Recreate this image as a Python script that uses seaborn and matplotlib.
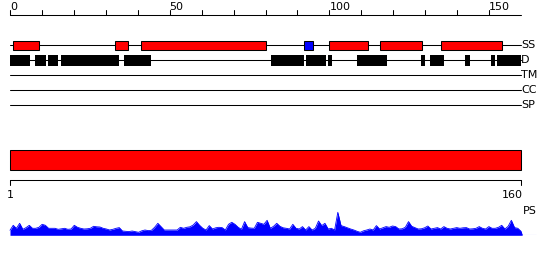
import numpy as np
import pandas as pd
import matplotlib
matplotlib.use("Agg")
import matplotlib.pyplot as plt
import seaborn as sns

sns.set_style("white")
plt.rcParams['font.family'] = ['DejaVu Sans']
plt.rcParams['text.color'] = 'black'

# ---------------- data ----------------
seq_len = 160
track_labels = ["SS", "D", "TM", "CC", "SP"]
top_major_ticks = [0, 50, 100, 150]
top_minor_ticks = [10, 20, 30, 40, 60, 70, 80, 90, 110, 120, 130, 140]

helix_start = [1, 33, 41, 100, 116, 135]
helix_end = [9, 37, 80, 112, 129, 154]
strand_start = [92]
strand_end = [95]

disorder_start = [0, 7.8, 11.9, 16, 35.7, 81.7, 92.7, 99.6, 108.6, 128.7, 131.5, 142.5, 150.6, 152.5]
disorder_end = [6.2, 11.2, 15, 34.1, 44.1, 92, 98.9, 100.7, 117.9, 129.8, 135.9, 143.9, 151.9, 160]

domain_start = [1]
domain_end = [160]
bottom_tick_labels = ["1", "160"]

ps_values = [
    5, 10, 7, 12, 6, 7.7, 10, 7, 7, 8,
    11, 10, 7, 7, 7, 6, 6.5, 7, 6, 6.3,
    10, 8, 7, 6.3, 6.5, 7, 9, 8.5, 8.3, 7,
    6.3, 5.3, 6, 7, 7.7, 4.3, 4, 3.7, 4.3, 3.7,
    3, 4.5, 5.3, 4.7, 5, 8, 12, 8.7, 5.3, 5.3,
    5.3, 5.3, 5.3, 8, 7, 8, 8.5, 10.3, 13.7, 10,
    7, 5.3, 9.7, 6.3, 7.5, 8, 7.7, 5.3, 11, 13,
    11, 8, 6, 13.7, 7.7, 7.2, 7, 13, 12, 11,
    15, 7, 9, 12, 9, 7.5, 7, 6.3, 11, 7,
    6.3, 8.7, 5.3, 8.7, 5.3, 7, 14.3, 9.7, 12, 6.3,
    7, 5.3, 23, 9.7, 8.7, 7.5, 6.3, 5.3, 4, 3,
    4.5, 5.3, 6.3, 5.3, 9.7, 6.3, 7.5, 8.7, 8, 9.3,
    8.7, 6.3, 6.5, 8, 13.7, 9, 7.7, 6.3, 6.5, 7.5,
    9.3, 6.3, 7, 7.7, 6.3, 8.7, 7, 6.3, 7, 7.7,
    7, 7.5, 7.7, 6.3, 6.5, 7, 8.7, 7, 6.3, 8.7,
    7, 7, 8, 10, 6.3, 9, 15, 7.7, 7, 4,
]
residues = list(range(1, seq_len + 1))

# ---------------- figure ----------------
W, H = 550, 260
fig = plt.figure(figsize=(W / 100, H / 100), dpi=100)

LINE = 0.75
FS = 8

# top panel axes: residue 0 at px 10, residue 160 at px 521
s_top = 511 / 160
ax = fig.add_axes([0, 0, 1, 1])
ax.set_xlim(-10 / s_top, (W - 10) / s_top)
ax.set_ylim(H, 0)
ax.axis("off")

# ruler
ax.plot([0, seq_len], [14.7, 14.7], color="black", lw=LINE)
for t in top_major_ticks + top_minor_ticks:
    ax.plot([t, t], [14.7, 10.0], color="black", lw=LINE)
for t in top_major_ticks:
    ax.text(t, 9.8, str(t), ha="left", va="baseline", fontsize=FS, color="black")

# track lines and labels
track_y = [45.3, 60.3, 75.3, 90.3, 105.3]
for lab, y in zip(track_labels, track_y):
    ax.plot([0, seq_len], [y, y], color="black", lw=LINE, zorder=1)
    ax.text(seq_len + 0.1, y, lab, ha="left", va="center", fontsize=FS, color="black")

# secondary structure
ax.barh(track_y[0], np.array(helix_end) - np.array(helix_start), left=helix_start,
        height=9.6, color="#ff0000", edgecolor="black", linewidth=LINE, zorder=2)
ax.barh(track_y[0], np.array(strand_end) - np.array(strand_start), left=strand_start,
        height=9.6, color="#0000ff", edgecolor="black", linewidth=LINE, zorder=2)
# disorder
ax.barh(track_y[1], np.array(disorder_end) - np.array(disorder_start), left=disorder_start,
        height=10.4, color="black", edgecolor="black", linewidth=0, zorder=2)

# bottom panel axes: residue 1 at px 10, residue 160 at px 521
s_bot = 511 / 159
ax2 = fig.add_axes([0, 0, 1, 1])
ax2.set_xlim(1 - 10 / s_bot, 1 + (W - 10) / s_bot)
ax2.set_ylim(H, 0)
ax2.axis("off")
ax2.patch.set_alpha(0)

ax2.barh(160.3, np.array(domain_end) - np.array(domain_start), left=domain_start,
         height=20, color="#ff0000", edgecolor="black", linewidth=LINE)
ax2.plot([1, seq_len], [180.3, 180.3], color="black", lw=LINE)
ax2.plot([1, 1], [180.3, 185], color="black", lw=LINE)
ax2.plot([seq_len, seq_len], [180.3, 185], color="black", lw=LINE)
ax2.text(1, 195, bottom_tick_labels[0], ha="center", va="center", fontsize=FS, color="black")
ax2.text(seq_len + 0.6, 195, bottom_tick_labels[1], ha="right", va="center", fontsize=FS, color="black")
ax2.text(seq_len + 0.6, 210.5, "PS", ha="left", va="center", fontsize=FS, color="black")

# PS profile axes: baseline at px 235.3
ps_h = 25
ax3 = fig.add_axes([0, (H - 235.3) / H, 1, ps_h / H])
ax3.set_xlim(1 - 10 / s_bot, 1 + (W - 10) / s_bot)
ax3.set_ylim(0, ps_h)
ax3.axis("off")
ax3.patch.set_alpha(0)

df = pd.DataFrame({"res": residues + [seq_len + 0.4], "ps": ps_values + [0]})
ax3.fill_between(df["res"], 0, df["ps"], color="#0000ff", linewidth=0)
sns.lineplot(data=df, x="res", y="ps", ax=ax3, color="#0000ff", lw=0.6)
ax3.plot([seq_len, seq_len + 4.6], [0.3, 0.3], color="#0000ff", lw=LINE)

fig.savefig("out.png", dpi=100)
